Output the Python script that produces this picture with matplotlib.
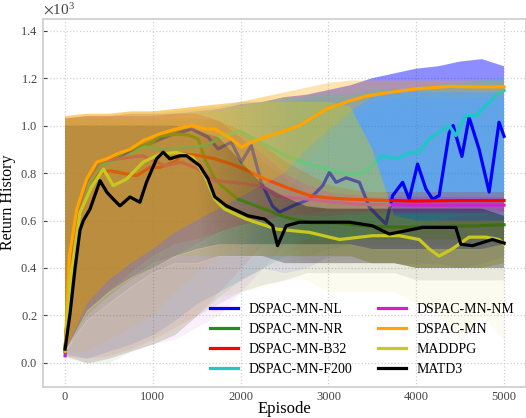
import matplotlib
matplotlib.use("Agg")
import matplotlib.pyplot as plt
from matplotlib.colors import to_rgb
import numpy as np

plt.rcParams['font.family'] = 'serif'
plt.rcParams['font.serif'] = ['Liberation Serif', 'DejaVu Serif']
plt.rcParams['mathtext.fontset'] = 'stix'

names = ['DSPAC-MN-NL', 'DSPAC-MN-NR', 'DSPAC-MN-B32', 'DSPAC-MN-F200',
         'DSPAC-MN-NM', 'DSPAC-MN', 'MADDPG', 'MATD3']
colors = ['#0000ff', '#1f8f1f', '#ff0000', '#1fc7c7',
          '#cc22cc', '#ffa500', '#c8c81e', '#000000']

# smoothed curves (episode, return in thousands)
nl_ep = [0, 60, 130, 250, 400, 600, 800, 1000, 1200, 1326, 1440, 1629, 1742, 1894, 2008, 2121, 2235, 2364,
         2443, 2595, 2784, 2935, 3011, 3087, 3201, 3352, 3466, 3560, 3655, 3731, 3845, 3920, 4015, 4110,
         4186, 4261, 4375, 4420, 4520, 4602, 4716, 4830, 4943, 5000]
nl_val = [0.05, 0.4, 0.62, 0.76, 0.83, 0.86, 0.9, 0.93, 0.96, 0.972, 0.986, 0.951, 0.902, 0.93, 0.846, 0.916,
          0.761, 0.66, 0.635, 0.662, 0.69, 0.747, 0.803, 0.761, 0.78, 0.761, 0.656, 0.62, 0.585, 0.705, 0.761,
          0.69, 0.838, 0.733, 0.69, 0.705, 0.97, 1.0, 0.87, 1.035, 0.9, 0.72, 1.014, 0.955]

nr_ep = [0, 60, 130, 250, 400, 700, 966, 1080, 1250, 1400, 1515, 1591, 1700, 1780, 1970, 2273, 2500, 2800,
         3100, 3500, 3900, 4300, 4700, 5000]
nr_val = [0.05, 0.42, 0.62, 0.76, 0.84, 0.895, 0.923, 0.955, 0.965, 0.96, 0.944, 0.86, 0.78, 0.747, 0.69,
          0.648, 0.615, 0.59, 0.59, 0.575, 0.572, 0.575, 0.578, 0.582]

b32_ep = [0, 60, 130, 250, 400, 511, 701, 815, 966, 1080, 1269, 1326, 1515, 1705, 1894, 2083, 2273, 2590,
          2784, 3000, 3239, 3600, 4000, 4500, 5000]
b32_val = [0.05, 0.4, 0.62, 0.75, 0.8, 0.81, 0.796, 0.789, 0.824, 0.824, 0.85, 0.88, 0.875, 0.86, 0.838,
           0.81, 0.775, 0.73, 0.705, 0.695, 0.69, 0.685, 0.682, 0.684, 0.684]

f200_ep = [0, 60, 130, 250, 400, 700, 900, 1136, 1400, 1610, 1760, 1989, 2292, 2519, 2784, 2973, 3240, 3400,
           3614, 3780, 3920, 4034, 4148, 4261, 4375, 4451, 4565, 4680, 4792, 4905, 5000]
f200_val = [0.05, 0.4, 0.6, 0.74, 0.83, 0.87, 0.91, 0.902, 0.91, 0.915, 0.95, 0.977, 0.916, 0.873, 0.838,
            0.817, 0.796, 0.8, 0.873, 0.86, 0.887, 0.888, 0.944, 0.972, 1.0, 0.958, 1.042, 1.042, 1.084,
            1.127, 1.148]

nm_ep = [0, 60, 130, 250, 400, 600, 886, 1136, 1326, 1515, 1705, 1894, 2083, 2273, 2409, 2600, 2784, 3045,
         3400, 4000, 4500, 5000]
nm_val = [0.03, 0.4, 0.62, 0.77, 0.85, 0.86, 0.873, 0.831, 0.846, 0.817, 0.768, 0.761, 0.754, 0.74, 0.703,
          0.695, 0.69, 0.677, 0.668, 0.665, 0.665, 0.665]

mn_ep = [0, 50, 133, 246, 360, 474, 587, 739, 890, 1080, 1269, 1440, 1610, 1705, 1894, 2008, 2121, 2273, 2409,
         2670, 2977, 3239, 3432, 3700, 4000, 4375, 4700, 5000]
mn_val = [0.05, 0.45, 0.648, 0.775, 0.846, 0.86, 0.88, 0.9, 0.937, 0.965, 0.986, 1.0, 0.986, 0.986, 0.944,
          0.909, 0.93, 0.951, 0.966, 1.0, 1.07, 1.104, 1.125, 1.14, 1.155, 1.165, 1.163, 1.163]

maddpg_ep = [0, 60, 170, 300, 436, 549, 701, 890, 1080, 1269, 1458, 1591, 1705, 1818, 2064, 2405, 2784, 3125,
             3500, 3807, 4034, 4148, 4261, 4409, 4602, 4792, 4943, 5000]
maddpg_val = [0.05, 0.35, 0.635, 0.74, 0.817, 0.747, 0.775, 0.846, 0.88, 0.887, 0.866, 0.79, 0.69, 0.648,
              0.606, 0.564, 0.55, 0.52, 0.536, 0.536, 0.52, 0.48, 0.45, 0.48, 0.53, 0.53, 0.52, 0.5]

matd3_ep = [0, 57, 114, 170, 208, 284, 398, 474, 549, 625, 739, 852, 928, 1042, 1117, 1193, 1307, 1383, 1534,
            1629, 1705, 1837, 2083, 2273, 2364, 2420, 2519, 2670, 3045, 3239, 3500, 3693, 3883, 4072, 4261,
            4450, 4508, 4640, 4867, 5000]
matd3_val = [0.058, 0.21, 0.4, 0.56, 0.6, 0.648, 0.768, 0.72, 0.69, 0.662, 0.699, 0.677, 0.762, 0.86, 0.888,
             0.86, 0.873, 0.873, 0.831, 0.775, 0.7, 0.662, 0.62, 0.606, 0.578, 0.494, 0.578, 0.593, 0.593,
             0.593, 0.578, 0.543, 0.557, 0.571, 0.571, 0.571, 0.5, 0.494, 0.52, 0.505]

# raw-return envelopes every 250 episodes (thousands): top, dense lower edge, spike floor
band_ep = [0, 250, 500, 750, 1000, 1250, 1500, 1750, 2000, 2250, 2500, 2750, 3000, 3250, 3500, 3750, 4000,
           4250, 4500, 4750, 5000]
nl_hi = [1.03, 1.04, 1.04, 1.05, 1.05, 1.05, 1.06, 1.07, 1.09, 1.1, 1.12, 1.13, 1.15, 1.17, 1.2, 1.22, 1.24,
         1.25, 1.27, 1.28, 1.25]
nl_core = [0.05, 0.22, 0.3, 0.36, 0.4, 0.45, 0.48, 0.5, 0.5, 0.5, 0.5, 0.5, 0.5, 0.5, 0.48, 0.48, 0.48, 0.48,
           0.48, 0.48, 0.5]
nl_lo = [0.04, 0.02, 0.05, 0.08, 0.12, 0.18, 0.25, 0.3, 0.35, 0.4, 0.38, 0.4, 0.45, 0.45, 0.42, 0.42, 0.42,
         0.42, 0.4, 0.42, 0.45]
nr_hi = [1.03, 1.03, 1.03, 1.03, 1.03, 1.03, 1.03, 1.02, 0.95, 0.85, 0.78, 0.72, 0.7, 0.68, 0.67, 0.66, 0.66,
         0.66, 0.66, 0.66, 0.66]
nr_core = [0.05, 0.2, 0.28, 0.35, 0.4, 0.45, 0.48, 0.5, 0.5, 0.5, 0.5, 0.5, 0.5, 0.52, 0.52, 0.52, 0.52, 0.52,
           0.52, 0.52, 0.52]
nr_lo = [0.03, 0.0, 0.0, 0.05, 0.08, 0.12, 0.2, 0.28, 0.35, 0.4, 0.45, 0.45, 0.48, 0.5, 0.5, 0.5, 0.5, 0.5,
         0.5, 0.5, 0.5]
b32_hi = [1.03, 1.04, 1.04, 1.04, 1.04, 1.05, 1.05, 1.02, 0.98, 0.92, 0.85, 0.8, 0.75, 0.73, 0.72, 0.72, 0.72,
          0.72, 0.72, 0.72, 0.72]
b32_core = [0.05, 0.22, 0.3, 0.38, 0.45, 0.5, 0.52, 0.55, 0.58, 0.6, 0.62, 0.63, 0.64, 0.64, 0.64, 0.64, 0.64,
            0.64, 0.64, 0.64, 0.64]
b32_lo = [0.03, 0.02, 0.03, 0.06, 0.1, 0.15, 0.2, 0.3, 0.4, 0.5, 0.56, 0.6, 0.62, 0.64, 0.64, 0.64, 0.64,
          0.64, 0.64, 0.64, 0.64]
f200_hi = [1.03, 1.04, 1.04, 1.05, 1.05, 1.06, 1.07, 1.08, 1.1, 1.1, 1.12, 1.12, 1.13, 1.13, 1.15, 1.15, 1.16,
           1.17, 1.18, 1.19, 1.2]
f200_core = [0.05, 0.22, 0.3, 0.36, 0.42, 0.45, 0.48, 0.5, 0.5, 0.5, 0.5, 0.52, 0.52, 0.52, 0.55, 0.58, 0.58,
             0.6, 0.62, 0.62, 0.65]
f200_lo = [0.03, 0.02, 0.05, 0.08, 0.12, 0.18, 0.25, 0.3, 0.35, 0.4, 0.45, 0.5, 0.5, 0.5, 0.52, 0.55, 0.55,
           0.6, 0.6, 0.62, 0.65]
nm_hi = [1.03, 1.04, 1.04, 1.04, 1.04, 1.05, 1.05, 1.02, 0.95, 0.88, 0.8, 0.75, 0.72, 0.71, 0.7, 0.7, 0.7,
         0.7, 0.7, 0.7, 0.7]
nm_core = [0.05, 0.22, 0.3, 0.36, 0.42, 0.45, 0.5, 0.55, 0.58, 0.6, 0.62, 0.62, 0.62, 0.63, 0.63, 0.63, 0.63,
           0.63, 0.63, 0.63, 0.63]
nm_lo = [0.02, 0.0, 0.02, 0.05, 0.08, 0.1, 0.15, 0.2, 0.3, 0.4, 0.5, 0.58, 0.6, 0.62, 0.63, 0.63, 0.63, 0.63,
         0.63, 0.63, 0.63]
mn_hi = [1.04, 1.05, 1.05, 1.06, 1.06, 1.07, 1.08, 1.09, 1.1, 1.12, 1.14, 1.16, 1.18, 1.19, 1.19, 1.19, 1.19,
         1.19, 1.19, 1.19, 1.19]
mn_core = [0.05, 0.25, 0.35, 0.42, 0.48, 0.55, 0.6, 0.65, 0.7, 0.75, 0.8, 0.9, 0.98, 1.06, 1.12, 1.14, 1.14,
           1.14, 1.14, 1.14, 1.14]
mn_lo = [0.05, 0.05, 0.1, 0.15, 0.2, 0.3, 0.38, 0.45, 0.5, 0.6, 0.7, 0.85, 0.95, 1.05, 1.1, 1.12, 1.12, 1.12,
         1.12, 1.12, 1.12]
maddpg_hi = [1.03, 1.03, 1.03, 1.03, 1.03, 1.04, 1.05, 1.06, 1.08, 1.1, 1.1, 1.1, 1.1, 1.08, 0.9, 0.62, 0.6,
             0.6, 0.6, 0.6, 0.6]
maddpg_core = [0.05, 0.2, 0.28, 0.35, 0.4, 0.45, 0.45, 0.45, 0.45, 0.45, 0.45, 0.45, 0.45, 0.45, 0.42, 0.42,
               0.4, 0.4, 0.4, 0.4, 0.42]
maddpg_lo = [0.03, 0.0, 0.02, 0.05, 0.08, 0.12, 0.2, 0.28, 0.3, 0.32, 0.35, 0.35, 0.3, 0.3, 0.3, 0.3, 0.25,
             0.2, 0.1, 0.2, 0.1]
matd3_hi = [1.0, 1.0, 1.0, 1.0, 1.0, 1.0, 0.98, 0.95, 0.85, 0.75, 0.7, 0.66, 0.65, 0.65, 0.65, 0.65, 0.65,
            0.65, 0.65, 0.65, 0.62]
matd3_core = [0.05, 0.18, 0.25, 0.32, 0.38, 0.42, 0.42, 0.45, 0.45, 0.45, 0.42, 0.42, 0.42, 0.42, 0.42, 0.42,
              0.4, 0.4, 0.4, 0.4, 0.4]
matd3_lo = [0.03, 0.0, 0.02, 0.05, 0.08, 0.12, 0.2, 0.25, 0.3, 0.33, 0.35, 0.38, 0.38, 0.38, 0.38, 0.38,
            0.35, 0.35, 0.35, 0.35, 0.35]

curves = [(nl_ep, nl_val), (nr_ep, nr_val), (b32_ep, b32_val), (f200_ep, f200_val),
          (nm_ep, nm_val), (mn_ep, mn_val), (maddpg_ep, maddpg_val), (matd3_ep, matd3_val)]
bands = [(nl_lo, nl_core, nl_hi), (nr_lo, nr_core, nr_hi), (b32_lo, b32_core, b32_hi),
         (f200_lo, f200_core, f200_hi), (nm_lo, nm_core, nm_hi), (mn_lo, mn_core, mn_hi),
         (maddpg_lo, maddpg_core, maddpg_hi), (matd3_lo, matd3_core, matd3_hi)]
# band opacity early / late, blended over the middle of the run
alpha_early = [0.2, 0.17, 0.2, 0.17, 0.2, 0.55, 0.2, 0.12]
alpha_late = [0.45, 0.35, 0.35, 0.4, 0.35, 0.3, 0.42, 0.35]

fig = plt.figure(figsize=(5.26, 4.18), dpi=100)
ax = fig.add_axes([0.082, 0.075, 0.918, 0.88])

K = 1000
ep_b = np.array(band_ep)
xs = np.linspace(0, 5000, 400)


def draw_band(i):
    lo, core, hi = [np.array(a) * K for a in bands[i]]
    ax.fill_between(ep_b, lo, core, color=colors[i], alpha=0.07, lw=0, zorder=2)
    # core band: colour whose opacity drifts along the run, clipped to the band outline
    outline = ax.fill_between(ep_b, core, hi, facecolor='none', lw=0)
    path = outline.get_paths()[0]
    outline.remove()
    img = np.zeros((1, len(xs), 4))
    img[..., :3] = to_rgb(colors[i])
    img[..., 3] = np.interp(xs, [1500, 2750], [alpha_early[i], alpha_late[i]])
    im = ax.imshow(img, extent=(0, 5000, -100, 1500), aspect='auto', origin='lower',
                   interpolation='bilinear', zorder=2)
    im.set_clip_path(path, ax.transData)


def draw_curve(i):
    ep, val = curves[i]
    ax.plot(ep, np.array(val) * K, color=colors[i], lw=2.3, label=names[i], zorder=2)


# first five: bands then curves; the last three bands cover them, their curves go on top
for i in range(5):
    draw_band(i)
for i in range(5):
    draw_curve(i)
for i in range(5, 8):
    draw_band(i)
for i in range(5, 8):
    draw_curve(i)

ax.set_xlim(-250, 5250)
ax.set_ylim(-100, 1450)
ax.set_xticks([0, 1000, 2000, 3000, 4000, 5000])
ax.set_yticks([0, 200, 400, 600, 800, 1000, 1200, 1400])
ax.ticklabel_format(axis='y', style='sci', scilimits=(3, 3), useMathText=True)
ax.yaxis.get_offset_text().set_fontsize(11)
ax.yaxis.get_offset_text().set_color('#444444')

ax.grid(True, ls=':', color='#d0d0d0', lw=0.9)
ax.set_axisbelow(True)
for s in ax.spines.values():
    s.set_color('#d0d0d0')
    s.set_linewidth(1.3)
ax.tick_params(axis='y', colors='#444444', labelsize=9, length=3, width=0.8, direction='in', pad=4)
ax.tick_params(axis='x', colors='#444444', labelsize=9, length=0, pad=3)
ax.set_xlabel('Episode', fontsize=12, labelpad=-1)
ax.set_ylabel('Return History', fontsize=11.5, labelpad=3)

leg = ax.legend(ncol=2, loc='lower right', bbox_to_anchor=(0.998, 0.0), frameon=False, fontsize=10,
                handlelength=2.0, columnspacing=1.9, labelspacing=0.5, handletextpad=0.72,
                borderpad=0.3)

fig.savefig('out.png', dpi=100)
